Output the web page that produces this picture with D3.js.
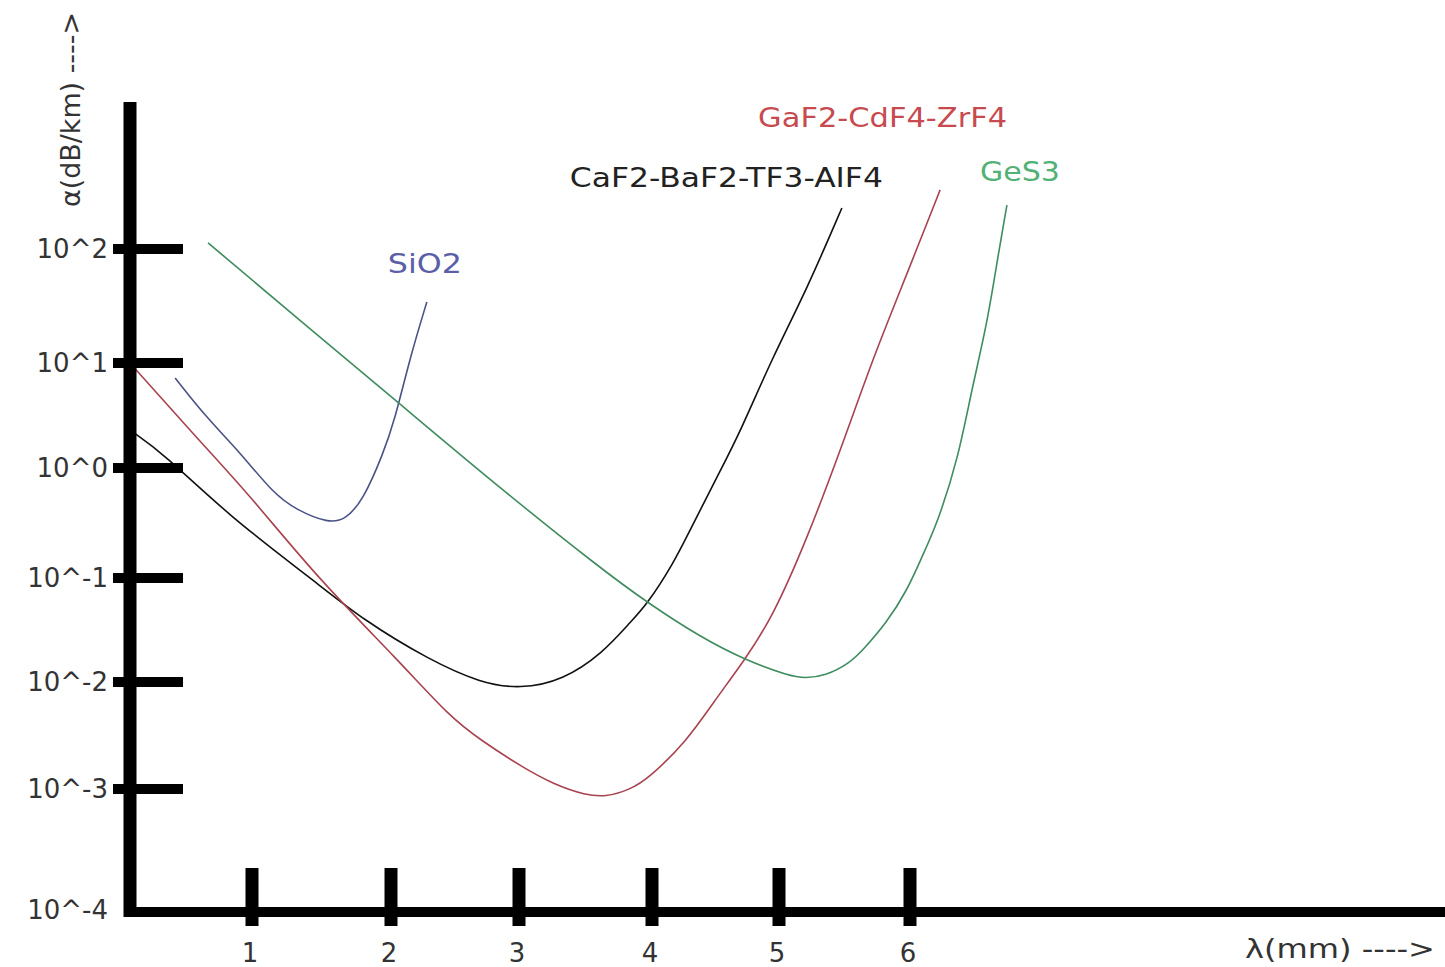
<!DOCTYPE html>
<html lang="en">
<head>
    <meta charset="UTF-8">
    <title>Fibre loss vs wavelength</title>
    <script src="https://d3js.org/d3.v7.min.js"></script>
    <style>
        body { margin: 0; background: #fff; }
        svg text { font-family: 'DejaVu Sans', Verdana, sans-serif; }
        .tick-label { font-size: 26px; fill: #333; }
        .axis-title { font-size: 26px; fill: #333; }
        .series-label { font-size: 26px; }
        .curve { fill: none; stroke-width: 1.6px; }
    </style>
</head>
<body>
<div id="chart"></div>
<script>
// tick values and labels
const xTicks = [1, 2, 3, 4, 5, 6];
const yTicks = [1e2, 1e1, 1, 1e-1, 1e-2, 1e-3, 1e-4];
const yTickLabels = ["10^2", "10^1", "10^0", "10^-1", "10^-2", "10^-3", "10^-4"];

// series: wavelength (λ) and attenuation (α, dB/km)
const sio2Lambda = [0.37, 0.63, 0.90, 1.15, 1.32, 1.55, 1.67, 1.80, 1.94, 2.03, 2.15, 2.28];
const sio2Alpha  = [7.20, 2.99, 1.42, 0.593, 0.415, 0.316, 0.337, 0.512, 1.33, 2.87, 11.3, 34.3];

const cafLambda = [0.00, 0.27, 0.82, 1.44, 1.80, 2.30, 2.70, 3.01, 3.33, 3.63, 3.83, 3.96, 4.17, 4.28, 4.54, 4.69, 4.95, 5.21, 5.48];
const cafAlpha  = [2.30, 1.39, 0.359, 0.0957, 0.0394, 0.0163, 0.00979, 0.00860, 0.0104, 0.0190, 0.0369, 0.0550, 0.137, 0.246, 0.959, 2.15, 11.3, 43.6, 229];

const gafLambda = [0.00, 0.57, 0.98, 1.47, 2.07, 2.46, 2.70, 3.01, 3.27, 3.50, 3.65, 3.83, 3.98, 4.28, 4.48, 4.73, 4.95, 5.21, 5.47, 5.72, 5.98, 6.23];
const gafAlpha  = [10.0, 1.81, 0.568, 0.100, 0.0156, 0.00471, 0.00287, 0.00164, 0.00109, 0.000892, 0.000859, 0.000982, 0.00127, 0.00287, 0.00637, 0.0163, 0.0422, 0.221, 1.48, 11.3, 61.6, 330];

const gesLambda = [0.64, 1.35, 2.07, 2.85, 3.61, 3.98, 4.38, 4.73, 5.08, 5.20, 5.35, 5.54, 5.64, 5.82, 5.98, 6.09, 6.21, 6.37, 6.47, 6.59, 6.67, 6.74];
const gesAlpha  = [113, 23.4, 4.07, 0.658, 0.123, 0.0562, 0.0271, 0.0163, 0.0114, 0.0109, 0.0114, 0.0152, 0.0203, 0.0369, 0.0767, 0.155, 0.316, 1.27, 5.53, 22.4, 85.1, 243];

const seriesNames = ["SiO2", "CaF2-BaF2-TF3-AIF4", "GaF2-CdF4-ZrF4", "GeS3"];

const W = 1445, H = 967;

const svg = d3.select("#chart").append("svg")
    .attr("width", W)
    .attr("height", H);

// hand-drawn axis: tick spacing is uneven, so piecewise scales
const x = d3.scaleLinear()
    .domain([0, 1, 2, 3, 4, 5, 6])
    .range([130, 252, 391, 519, 652, 779, 910]);

const y = d3.scaleLog()
    .domain([1e-4, 1e-3, 1e-2, 1e-1, 1, 1e1, 1e2])
    .range([910, 789, 682, 578, 468, 363, 249]);

// label offsets are from the last point of each curve; widths match the wide face of the original
const series = [
    {name: seriesNames[0], lam: sio2Lambda, a: sio2Alpha, line: "#4a5386", text: "#5a5fa8", dx: -39, dy: -29, w: 74},
    {name: seriesNames[1], lam: cafLambda,  a: cafAlpha,  line: "#111111", text: "#222222", dx: -272, dy: -21, w: 313},
    {name: seriesNames[2], lam: gafLambda,  a: gafAlpha,  line: "#a8434f", text: "#c74a4f", dx: -182, dy: -63, w: 249},
    {name: seriesNames[3], lam: gesLambda,  a: gesAlpha,  line: "#3f8c5f", text: "#52b176", dx: -27, dy: -24, w: 80}
];

const line = d3.line()
    .x(d => x(d[0]))
    .y(d => y(d[1]))
    .curve(d3.curveBasis);

series.forEach(s => {
    const pts = s.lam.map((l, i) => [l, s.a[i]]);
    svg.append("path")
        .attr("class", "curve")
        .attr("stroke", s.line)
        .attr("d", line(pts));
    const last = pts[pts.length - 1];
    svg.append("text")
        .attr("class", "series-label")
        .attr("x", x(last[0]) + s.dx)
        .attr("y", y(last[1]) + s.dy)
        .attr("fill", s.text)
        .attr("textLength", s.w)
        .attr("lengthAdjust", "spacingAndGlyphs")
        .text(s.name);
});

// axes
const x0 = x(0), y0 = y(1e-4) + 2;

svg.append("line")
    .attr("x1", x0).attr("x2", x0)
    .attr("y1", 102).attr("y2", y0 + 5)
    .attr("stroke", "#000").attr("stroke-width", 13);

svg.append("line")
    .attr("x1", x0 - 6).attr("x2", W)
    .attr("y1", y0).attr("y2", y0)
    .attr("stroke", "#000").attr("stroke-width", 10);

// y ticks (none at the origin)
svg.selectAll(".ytick")
    .data(yTicks.slice(0, -1))
    .enter().append("line")
    .attr("class", "ytick")
    .attr("x1", x0 - 17).attr("x2", x0 + 53)
    .attr("y1", d => y(d)).attr("y2", d => y(d))
    .attr("stroke", "#000").attr("stroke-width", 10);

svg.selectAll(".ylab")
    .data(yTicks)
    .enter().append("text")
    .attr("class", "tick-label")
    .attr("x", 108)
    .attr("y", d => y(d))
    .attr("dy", "0.36em")
    .attr("text-anchor", "end")
    .text((d, i) => yTickLabels[i]);

// x ticks
svg.selectAll(".xtick")
    .data(xTicks)
    .enter().append("line")
    .attr("class", "xtick")
    .attr("x1", d => x(d)).attr("x2", d => x(d))
    .attr("y1", y0 - 44).attr("y2", y0 + 14)
    .attr("stroke", "#000").attr("stroke-width", 13);

svg.selectAll(".xlab")
    .data(xTicks)
    .enter().append("text")
    .attr("class", "tick-label")
    .attr("x", d => x(d) - 2)
    .attr("y", 962)
    .attr("text-anchor", "middle")
    .text(d => d);

// axis titles
svg.append("text")
    .attr("class", "axis-title")
    .attr("x", 1245)
    .attr("y", 958)
    .attr("textLength", 190)
    .attr("lengthAdjust", "spacingAndGlyphs")
    .text("λ(mm) ---->");

svg.append("text")
    .attr("class", "axis-title")
    .attr("transform", "translate(80,207) rotate(-90)")
    .attr("textLength", 195)
    .attr("lengthAdjust", "spacingAndGlyphs")
    .text("α(dB/km) ---->");
</script>
</body>
</html>
